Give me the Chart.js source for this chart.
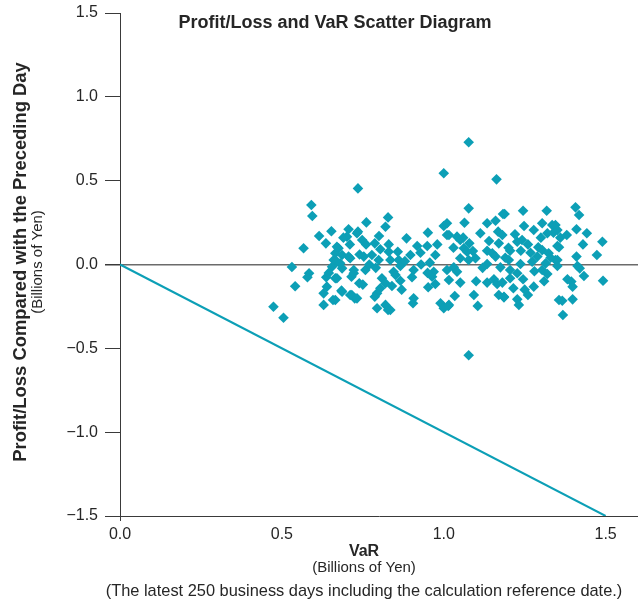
<!DOCTYPE html>
<html>
<head>
<meta charset="utf-8">
<script src="https://cdn.jsdelivr.net/npm/chart.js@4/dist/chart.umd.min.js"></script>
<style>
html,body{margin:0;padding:0;background:#fff;}
#wrap{position:relative;width:638px;height:605px;}
</style>
</head>
<body>
<div id="wrap"><canvas id="c" width="638" height="605"></canvas></div>
<script>
const chartTitle = "Profit/Loss and VaR Scatter Diagram";
const yTitle = "Profit/Loss Compared with the Preceding Day";
const yUnit = "(Billions of Yen)";
const xTitle = "VaR";
const xUnit = "(Billions of Yen)";
const footnote = "(The latest 250 business days including the calculation reference date.)";

// VaR (x) and Profit/Loss (y), billions of yen
const varValues = [
0.474,0.505,0.531,0.541,0.567,0.591,0.594,0.735,1.000,1.077,1.163,1.077,
0.615,0.653,0.636,0.584,0.579,0.665,0.660,0.655,0.637,0.639,0.629,0.658,0.629,
0.828,0.820,0.761,0.706,0.735,0.701,0.748,0.787,0.675,0.804,0.830,0.686,0.711,0.778,0.753,0.799,0.670,0.686,0.722,0.758,0.715,0.845,0.665,0.809,0.739,0.820,0.804,0.684,0.794,0.711,0.725,0.787,0.665,0.820,0.794,0.828,
1.000,1.010,0.951,0.885,0.918,0.949,0.928,0.974,0.858,0.897,0.835,0.861,0.866,0.957,0.907,0.969,0.851,0.902,0.964,0.866,0.840,0.952,0.974,0.907,0.905,0.990,1.000,1.016,0.835,
1.077,1.183,1.064,1.134,1.160,1.010,1.168,1.113,1.016,1.041,1.051,1.079,1.170,1.062,1.072,1.134,1.150,1.160,1.098,1.051,1.077,1.134,1.031,1.041,1.010,1.016,1.051,1.134,1.155,1.165,1.170,1.034,1.093,1.186,1.014,1.105,
1.245,1.318,1.188,1.248,1.304,1.278,1.335,1.339,1.320,1.181,1.242,1.227,1.351,1.292,1.304,1.205,1.238,1.268,1.324,1.289,1.201,1.273,1.315,1.345,1.237,1.175,1.304,1.205,1.320,1.227,1.205,1.245,1.181,1.278,1.215,1.186,1.260,1.227,1.232,1.356,
1.407,1.418,1.345,1.351,1.410,1.380,1.442,1.490,1.430,1.356,1.473,1.410,1.351,1.351,1.413,1.420,1.433,1.382,1.394,1.398,1.492,1.366,1.398,1.368,
0.732,0.670,0.706,0.680,0.722,0.670,0.686,0.716,0.732,0.645,
0.760,0.770,0.740,0.790,0.800,0.880,0.930,0.980,1.030,1.060,1.090,1.120,1.140,1.200,1.220,1.260,1.280,1.300,1.310,1.330,1.360,1.250,1.190,1.100,0.950,0.870,0.830,0.710,0.690,0.750
];
const plValues = [
-0.252,-0.318,-0.015,-0.130,0.097,0.355,0.289,0.454,0.544,0.729,0.508,-0.541,
0.170,0.198,0.126,-0.052,-0.076,0.067,0.027,-0.013,-0.076,-0.132,-0.172,-0.212,-0.241,
0.281,0.225,0.251,0.210,0.196,0.166,0.146,0.126,0.097,0.091,0.076,0.057,0.037,0.057,0.047,0.027,0.017,-0.023,-0.033,-0.033,-0.073,-0.043,-0.082,-0.082,-0.112,-0.112,-0.142,-0.156,-0.172,-0.182,-0.202,-0.192,-0.212,-0.241,-0.261,-0.271,
0.230,0.176,0.190,0.156,0.110,0.110,0.070,0.057,0.076,0.057,0.027,0.027,-0.009,0.011,-0.033,-0.043,-0.063,-0.076,-0.073,-0.097,-0.128,-0.136,-0.116,-0.202,-0.231,-0.231,-0.261,-0.241,-0.271,
0.335,0.301,0.249,0.246,0.261,0.246,0.196,0.186,0.176,0.166,0.146,0.126,0.126,0.097,0.076,0.082,0.067,0.047,0.037,0.037,0.027,0.003,-0.017,-0.043,-0.033,-0.092,-0.108,-0.108,-0.088,-0.116,-0.182,-0.188,-0.182,-0.196,-0.247,-0.247,
0.321,0.321,0.301,0.230,0.246,0.206,0.236,0.190,0.186,0.176,0.146,0.136,0.110,0.103,0.086,0.082,0.082,0.070,0.067,0.047,0.027,0.017,0.007,0.027,0.003,-0.017,-0.033,-0.033,-0.057,-0.052,-0.082,-0.088,-0.108,-0.132,-0.142,-0.192,-0.182,-0.208,-0.241,-0.212,
0.341,0.295,0.236,0.206,0.210,0.176,0.186,0.136,0.120,0.103,0.057,0.047,0.027,-0.009,-0.009,-0.023,-0.069,-0.088,-0.102,-0.132,-0.097,-0.216,-0.208,-0.301,
0.186,0.106,0.047,0.007,-0.052,-0.082,-0.162,-0.182,-0.202,-0.050,
0.120,0.000,0.060,-0.020,0.170,0.020,0.000,0.120,0.100,0.160,0.080,-0.020,0.140,0.100,0.180,0.120,-0.040,0.160,-0.100,0.040,0.160,-0.150,0.040,-0.100,-0.050,-0.150,0.120,0.120,0.160,-0.120
];
// Reference line: loss equal to VaR
const refLineX = [0, 1.5];
const refLineY = [0, -1.5];
const xTickValues = [0, 0.5, 1.0, 1.5];
const yTickValues = [-1.5, -1.0, -0.5, 0, 0.5, 1.0, 1.5];

const TEAL = '#0c9fb6';
const TXT = '#262626';
const FONT = '"Liberation Sans", Arial, Helvetica, sans-serif';

const scatterData = varValues.map((v, i) => ({x: v, y: plValues[i]}));
const lineData = refLineX.map((v, i) => ({x: v, y: refLineY[i]}));

const textPlugin = {
  id: 'texts',
  afterDraw(chart) {
    const ctx = chart.ctx;
    ctx.save();
    ctx.fillStyle = TXT;
    ctx.textAlign = 'center';
    ctx.textBaseline = 'middle';
    ctx.font = 'bold 18px ' + FONT;
    ctx.fillText(chartTitle, 335, 23);
    ctx.font = 'bold 16px ' + FONT;
    ctx.fillText(xTitle, 364, 552);
    ctx.font = '15px ' + FONT;
    ctx.fillText(xUnit, 364, 568);
    ctx.font = '16.4px ' + FONT;
    ctx.fillText(footnote, 364, 591);
    ctx.translate(21, 262);
    ctx.rotate(-Math.PI / 2);
    ctx.font = 'bold 18.4px ' + FONT;
    ctx.fillText(yTitle, 0, 0);
    ctx.font = '15px ' + FONT;
    ctx.fillText(yUnit, 0, 17);
    ctx.restore();
  }
};

new Chart(document.getElementById('c'), {
  type: 'scatter',
  data: {
    datasets: [
      {
        type: 'line',
        data: lineData,
        borderColor: TEAL,
        borderWidth: 2,
        pointRadius: 0,
        fill: false,
        order: 2
      },
      {
        data: scatterData,
        pointStyle: 'rectRot',
        pointRadius: 5.3,
        pointHoverRadius: 5.3,
        backgroundColor: TEAL,
        borderColor: TEAL,
        borderWidth: 0,
        order: 1
      }
    ]
  },
  options: {
    responsive: false,
    animation: false,
    events: [],
    layout: {autoPadding: false, padding: {top: 13, right: 0, left: 0, bottom: 0}},
    plugins: {legend: {display: false}, tooltip: {enabled: false}, title: {display: false}},
    scales: {
      x: {
        type: 'linear',
        min: 0, max: 1.6,
        afterBuildTicks: s => { s.ticks = xTickValues.map(v => ({value: v})); },
        afterFit: s => { s.height = 89; s.paddingLeft = 0; s.paddingRight = 0; },
        border: {color: '#3a3a3a', width: 1},
        grid: {drawOnChartArea: false, tickLength: 5, tickColor: c => (c.tick && c.tick.value === 0 ? '#3a3a3a' : 'rgba(0,0,0,0)')},
        ticks: {color: TXT, font: {size: 16, family: FONT}, padding: 4, maxRotation: 0,
          callback: v => v.toFixed(1)}
      },
      y: {
        type: 'linear',
        min: -1.5, max: 1.5,
        afterBuildTicks: s => { s.ticks = yTickValues.map(v => ({value: v})); },
        afterFit: s => { s.width = 120; s.paddingTop = 0; s.paddingBottom = 0; },
        border: {color: '#3a3a3a', width: 1},
        grid: {
          drawOnChartArea: true,
          color: c => (c.tick && c.tick.value === 0 ? '#6b6b6b' : 'rgba(0,0,0,0)'),
          lineWidth: c => (c.tick && c.tick.value === 0 ? 1.5 : 1),
          tickColor: '#3a3a3a',
          tickLength: 15
        },
        ticks: {color: TXT, font: {size: 16, family: FONT}, padding: 7,
          callback: v => (v < 0 ? '\u2212' + Math.abs(v).toFixed(1) : v.toFixed(1))}
      }
    }
  },
  plugins: [textPlugin]
});
</script>
</body>
</html>
